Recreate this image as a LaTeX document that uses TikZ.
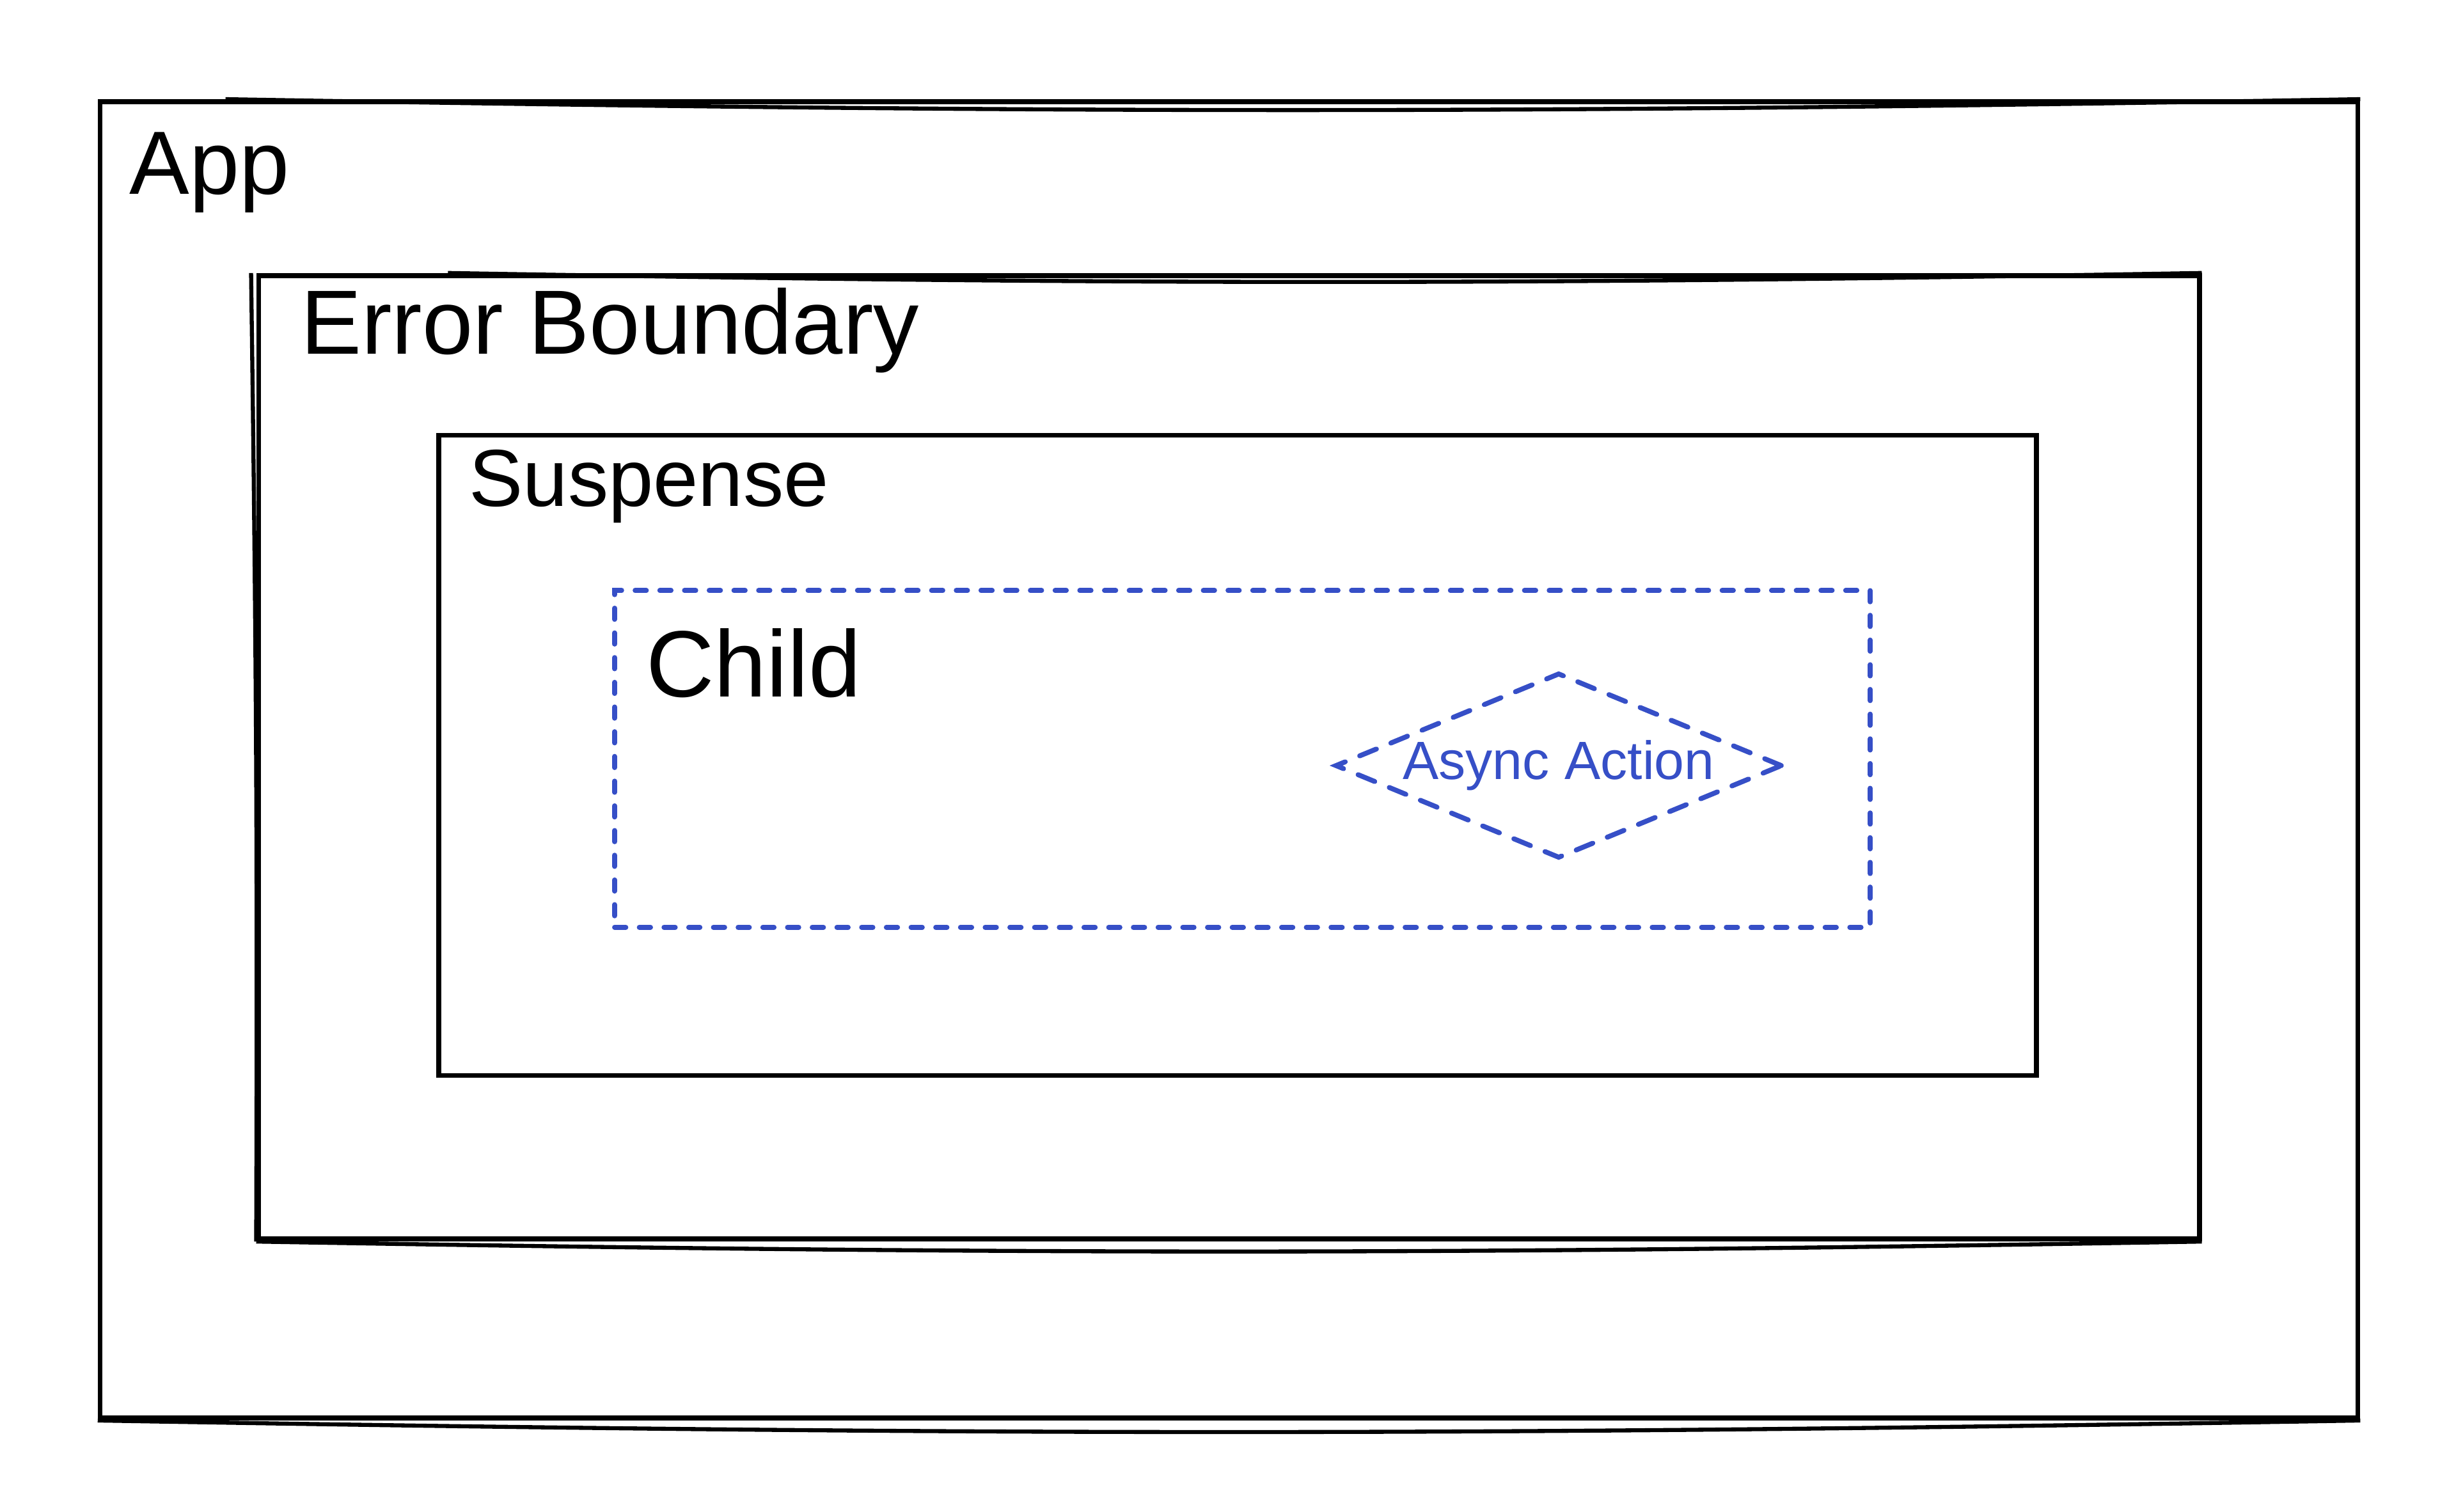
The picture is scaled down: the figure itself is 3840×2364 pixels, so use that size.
\documentclass[tikz,border=0pt]{standalone}
\usepackage{fontspec}
\setmainfont{Liberation Sans}
\usetikzlibrary{shapes.geometric}
\definecolor{asyncblue}{HTML}{364FC7}

\begin{document}
\begin{tikzpicture}[x=0.005cm, y=-0.005cm]
    \tikzstyle{frame} = [rectangle, draw=black, line width=1.1pt, inner sep=0pt]
    \tikzstyle{sketch} = [draw=black, line width=0.9pt]
    \tikzstyle{childbox} = [rectangle, draw=asyncblue, line width=1.1pt, line cap=round, dash pattern=on 2.5pt off 3pt, inner sep=0pt]
    \tikzstyle{task} = [diamond, draw=asyncblue, line width=1.1pt, line cap=round, dash pattern=on 4pt off 3.5pt, aspect=2.4, inner sep=0pt, minimum width=3.5cm, minimum height=1.45cm, text=asyncblue, font=\fontsize{12}{14}\selectfont]
    \tikzstyle{lbl} = [anchor=base west, inner sep=0pt]
    \fill[white] (0,0) rectangle (3840,2364);
    \useasboundingbox (0,0) rectangle (3840,2364);
    % nested boxes
    \node (app) [frame, minimum width=17.665cm, minimum height=10.3cm] at (1921.5,1188) {};
    \node (eb) [frame, minimum width=15.185cm, minimum height=7.54cm] at (1921.5,1184) {};
    \node (sus) [frame, minimum width=12.5cm, minimum height=5.01cm] at (1935,1181) {};
    \node (child) [childbox, minimum width=9.825cm, minimum height=2.635cm] at (1942.5,1186.5) {};
    \node (act) [task] at (2437,1197) {Async Action};
    % labels
    \node (applbl) [lbl, font=\fontsize{20}{24}\selectfont] at (201,304) {App};
    \node (eblbl) [lbl, font=\fontsize{20.3}{24}\selectfont] at (469,554) {Error Boundary};
    \node (suslbl) [lbl, font=\fontsize{18}{22}\selectfont] at (732,792) {Suspense};
    \node (childlbl) [lbl, font=\fontsize{21}{25}\selectfont] at (1009,1090) {Child};
    % second pencil strokes
    \draw[sketch] ([xshift=1cm]app.north west) to[bend right=1] (app.north east);
    \draw[sketch] (app.south west) to[bend right=1] (app.south east);
    \draw[sketch] ([xshift=1.5cm]eb.north west) to[bend right=1] (eb.north east);
    \draw[sketch] (eb.south west) to[bend right=1] (eb.south east);
    \draw[sketch] ([xshift=-0.04cm]eb.north west) to[bend left=0.5] (eb.south west);
\end{tikzpicture}
\end{document}
